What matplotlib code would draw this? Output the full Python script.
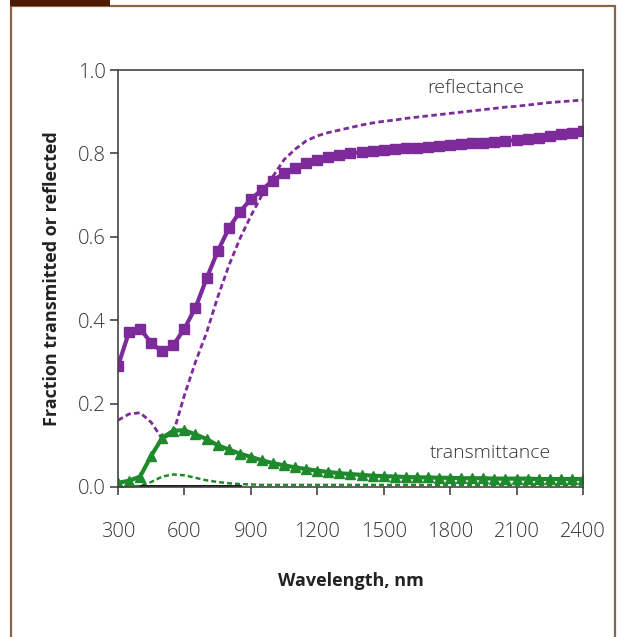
import matplotlib.pyplot as plt
from matplotlib.patches import Rectangle

plt.rcParams['font.family'] = ['Open Sans', 'DejaVu Sans']

# wavelength grid (nm)
wl = [300, 350, 400, 450, 500, 550, 600, 650, 700, 750, 800, 850, 900, 950,
      1000, 1050, 1100, 1150, 1200, 1250, 1300, 1350, 1400, 1450, 1500, 1550,
      1600, 1650, 1700, 1750, 1800, 1850, 1900, 1950, 2000, 2050, 2100, 2150,
      2200, 2250, 2300, 2350, 2400]

# reflectance, solid with squares
refl_sq = [0.29, 0.372, 0.38, 0.345, 0.325, 0.34, 0.38, 0.43, 0.50, 0.565,
           0.62, 0.66, 0.69, 0.713, 0.735, 0.752, 0.766, 0.777, 0.785, 0.791,
           0.796, 0.80, 0.803, 0.806, 0.808, 0.81, 0.812, 0.814, 0.816, 0.818,
           0.82, 0.822, 0.824, 0.826, 0.828, 0.83, 0.832, 0.835, 0.838, 0.842,
           0.846, 0.85, 0.853]

# reflectance, dashed
refl_dash = [0.16, 0.175, 0.178, 0.155, 0.115, 0.13, 0.22, 0.30, 0.37, 0.455,
             0.53, 0.595, 0.65, 0.70, 0.745, 0.785, 0.81, 0.83, 0.842, 0.85,
             0.856, 0.862, 0.868, 0.873, 0.877, 0.88, 0.884, 0.887, 0.89, 0.893,
             0.896, 0.899, 0.902, 0.905, 0.908, 0.911, 0.913, 0.916, 0.919,
             0.922, 0.924, 0.926, 0.928]

# transmittance, solid with triangles
trans_tri = [0.01, 0.015, 0.025, 0.075, 0.118, 0.135, 0.136, 0.126, 0.115,
             0.10, 0.09, 0.08, 0.072, 0.064, 0.057, 0.052, 0.047, 0.043, 0.039,
             0.036, 0.033, 0.031, 0.029, 0.027, 0.026, 0.025, 0.024, 0.023,
             0.023, 0.022, 0.022, 0.021, 0.021, 0.021, 0.02, 0.02, 0.02, 0.02,
             0.019, 0.019, 0.019, 0.019, 0.019]

# transmittance, dashed
trans_dash = [0.0, 0.0, 0.003, 0.012, 0.025, 0.03, 0.028, 0.022, 0.016, 0.012,
              0.009, 0.007, 0.006, 0.005, 0.005, 0.005, 0.005, 0.005, 0.005,
              0.005, 0.005, 0.005, 0.005, 0.005, 0.005, 0.005, 0.005, 0.005,
              0.005, 0.005, 0.005, 0.005, 0.005, 0.005, 0.005, 0.005, 0.005,
              0.005, 0.005, 0.005, 0.005, 0.005, 0.005]

# black baseline trace
base_wl = [400, 850]
base_val = [0.002, 0.002]

xticks = [300, 600, 900, 1200, 1500, 1800, 2100, 2400]
yticks = [0.0, 0.2, 0.4, 0.6, 0.8, 1.0]

purple = '#7d2a9a'
green = '#1e8a2c'

fig = plt.figure(figsize=(6.27, 6.37), dpi=100)
ax = fig.add_axes([0.1882, 0.2355, 0.7416, 0.6546])

ax.plot(wl, refl_dash, color=purple, lw=2, ls=(0, (2, 1.2)))
ax.plot(wl, refl_sq, color=purple, lw=3, marker='s', ms=6.5)
ax.plot(wl, trans_dash, color=green, lw=1.8, ls=(0, (2, 1.2)))
ax.plot(base_wl, base_val, color='black', lw=2)
ax.plot(wl, trans_tri, color=green, lw=3, marker='^', ms=6.5)

ax.text(1917, 0.957, 'reflectance', ha='center', va='center', fontsize=14,
        fontweight='light', color='#333333')
ax.text(1981, 0.082, 'transmittance', ha='center', va='center', fontsize=14,
        fontweight='light', color='#333333')

ax.set_xlim(300, 2400)
ax.set_ylim(0, 1.0)
ax.set_xticks(xticks)
ax.set_xticklabels([str(t) for t in xticks], fontweight='light')
ax.set_yticks(yticks)
ax.set_yticklabels([f'{t:.1f}' for t in yticks], fontweight='light')
ax.tick_params(axis='x', direction='out', length=6, width=1.2, pad=19,
               labelsize=14.5, colors='#444444', labelcolor='#333333')
ax.tick_params(axis='y', direction='out', length=6, width=1.2, pad=3,
               labelsize=14.5, colors='#444444', labelcolor='#333333')
for s in ax.spines.values():
    s.set_color('#444444')
    s.set_linewidth(1.2)

ax.set_xlabel('Wavelength, nm', fontsize=13, fontweight='bold', labelpad=22, color='#222222')
ax.set_ylabel('Fraction transmitted or reflected', fontsize=13, fontweight='bold',
              labelpad=12, color='#222222')

# brown border frame and tab
fig.add_artist(Rectangle((11 / 627, -0.05), (615 - 11) / 627, 1.05 - 6 / 637,
                         transform=fig.transFigure, fill=False,
                         edgecolor='#8a6446', lw=1.6))
fig.add_artist(Rectangle((10 / 627, 1 - 6 / 637), 100 / 627, 6 / 637,
                         transform=fig.transFigure, facecolor='#4b1c00',
                         edgecolor='none'))

fig.savefig('out.png', dpi=100)
